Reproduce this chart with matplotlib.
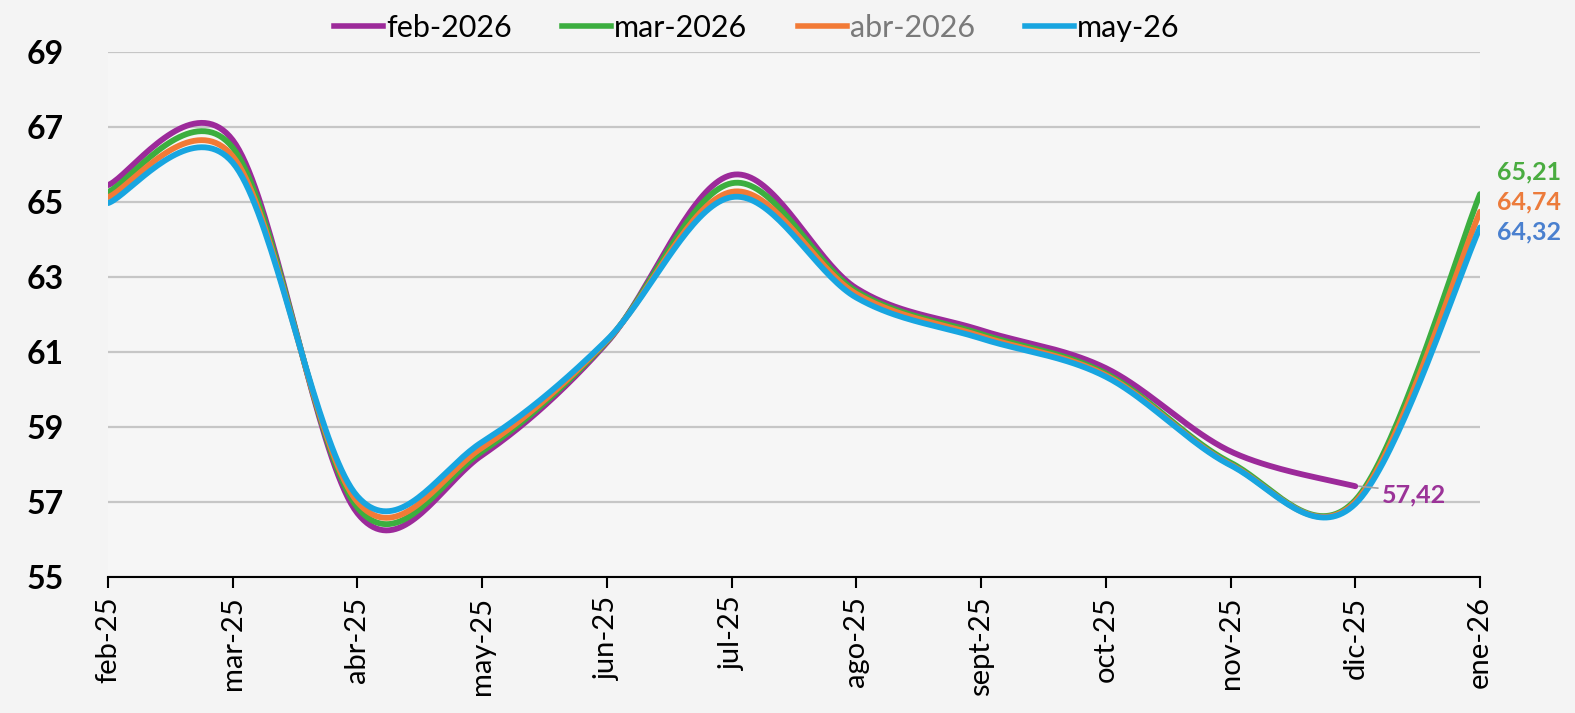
import numpy as np
import matplotlib.pyplot as plt
from matplotlib.lines import Line2D

# months on the x axis
months = ['feb-25', 'mar-25', 'abr-25', 'may-25', 'jun-25', 'jul-25',
          'ago-25', 'sept-25', 'oct-25', 'nov-25', 'dic-25', 'ene-26']

# one series per forecast vintage
feb_2026 = [65.45, 66.65, 56.70, 58.25, 61.25, 65.72, 62.70, 61.58, 60.57, 58.35, 57.42]
mar_2026 = [65.27, 66.45, 56.85, 58.35, 61.28, 65.50, 62.62, 61.48, 60.43, 58.05, 57.05, 65.21]
abr_2026 = [65.13, 66.22, 57.00, 58.45, 61.30, 65.27, 62.55, 61.42, 60.38, 58.00, 57.00, 64.74]
may_26 = [64.97, 66.05, 57.15, 58.60, 61.32, 65.13, 62.45, 61.36, 60.34, 57.98, 56.95, 64.32]

names = ['feb-2026', 'mar-2026', 'abr-2026', 'may-26']
colors = ['#9c2a9a', '#3cae3f', '#f27a36', '#18a5e0']
label_colors = ['#9b3398', '#4aac40', '#ec7b3b', '#4a80cf']

plt.rcParams['font.family'] = ['Lato', 'DejaVu Sans']


def smooth(y, n=40):
    """bezier smoothing like the spreadsheet 'smoothed line' option"""
    y = np.asarray(y, dtype=float)
    x = np.arange(len(y), dtype=float)
    xs, ys = [], []
    for i in range(len(y) - 1):
        p0 = i - 1 if i > 0 else i
        p3 = i + 2 if i + 2 < len(y) else i + 1
        c1x = x[i] + (x[i + 1] - x[p0]) / 6
        c1y = y[i] + (y[i + 1] - y[p0]) / 6
        c2x = x[i + 1] - (x[p3] - x[i]) / 6
        c2y = y[i + 1] - (y[p3] - y[i]) / 6
        t = np.linspace(0, 1, n)
        bx = (1 - t)**3 * x[i] + 3 * (1 - t)**2 * t * c1x + 3 * (1 - t) * t**2 * c2x + t**3 * x[i + 1]
        by = (1 - t)**3 * y[i] + 3 * (1 - t)**2 * t * c1y + 3 * (1 - t) * t**2 * c2y + t**3 * y[i + 1]
        xs.extend(bx)
        ys.extend(by)
    return np.array(xs), np.array(ys)


fig = plt.figure(figsize=(15.75, 7.13), dpi=100)
fig.patch.set_facecolor('#f4f4f4')
ax = fig.add_axes([108 / 1575, 136 / 713, (1480 - 108) / 1575, (577 - 52) / 713])
ax.set_facecolor('#f6f6f6')

series = [feb_2026, mar_2026, abr_2026, may_26]
for vals, c in zip(series, colors):
    sx, sy = smooth(vals)
    ax.plot(sx, sy, color=c, lw=4.2, solid_capstyle='round', zorder=3)

ax.set_xlim(0, len(months) - 1)
ax.set_ylim(55, 69)
ax.set_yticks(np.arange(55, 70, 2))
ax.set_xticks(range(len(months)))
ax.set_xticklabels(months, rotation=90, fontsize=21)
for lab in ax.get_yticklabels():
    lab.set_fontweight('bold')
    lab.set_fontsize(23)
ax.grid(axis='y', color='#c6c6c6', lw=1.6, zorder=0)
ax.set_axisbelow(True)
for s in ['left', 'right', 'top']:
    ax.spines[s].set_visible(False)
ax.spines['bottom'].set_linewidth(1.5)
ax.spines['bottom'].set_color('black')
ax.tick_params(axis='y', length=0, pad=32)
ax.tick_params(axis='x', length=8, width=1.5, direction='out', pad=6)

# end-point labels
last = len(feb_2026) - 1
ax.plot([last + 0.03, last + 0.18], [feb_2026[-1], feb_2026[-1] - 0.05], color='#a0a0a0', lw=1.2, zorder=4)
ax.text(last + 0.21, 57.2, '57,42', color=label_colors[0], fontsize=18,
        fontweight='bold', va='center', ha='left')
end = len(months) - 1
ax.text(end + 0.14, 65.8, '65,21', color=label_colors[1], fontsize=18, fontweight='bold', va='center', clip_on=False)
ax.text(end + 0.14, 65.0, '64,74', color=label_colors[2], fontsize=18, fontweight='bold', va='center', clip_on=False)
ax.text(end + 0.14, 64.2, '64,32', color=label_colors[3], fontsize=18, fontweight='bold', va='center', clip_on=False)

handles = [Line2D([0], [0], color=c, lw=4) for c in colors]
leg = fig.legend(handles, names, loc='center', bbox_to_anchor=(757 / 1575, 1 - 28 / 713), ncol=4,
                 frameon=False, fontsize=22, handlelength=1.6, handletextpad=0.1, columnspacing=1.65)
leg.get_texts()[2].set_color('#7a7a7a')

fig.savefig('out.png', dpi=100, facecolor=fig.get_facecolor())
